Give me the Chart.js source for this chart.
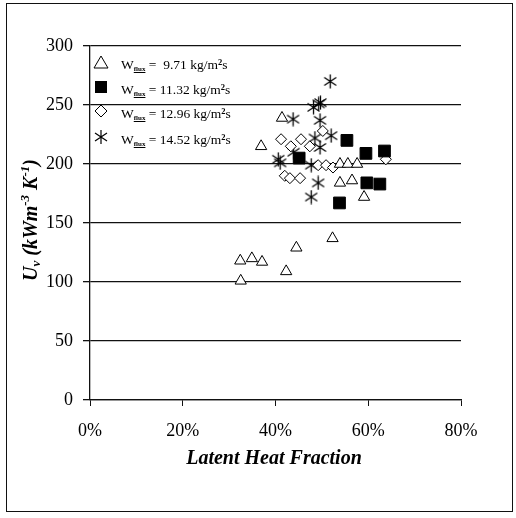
<!DOCTYPE html>
<html>
<head>
<meta charset="utf-8">
<script src="https://cdn.jsdelivr.net/npm/chart.js@4/dist/chart.umd.min.js"></script>
<style>
  html, body { margin: 0; padding: 0; background: #fff; }
  #wrap { position: relative; width: 516px; height: 518px; overflow: hidden; }
  #frame { position: absolute; left: 6px; top: 3px; width: 507px; height: 509px; border: 1.5px solid #111; box-sizing: border-box; }
  canvas { position: absolute; left: 0; top: 0; }
  .serif { font-family: "Liberation Serif", "Times New Roman", serif; color: #000; }
  #legend { position: absolute; left: 92px; top: 50px; font-size: 13.5px; }
  #legend .row { position: absolute; left: 0; height: 20px; white-space: nowrap; line-height: 20px; }
  #legend svg { position: absolute; left: 0; top: 2px; }
  #legend span { position: absolute; left: 29px; top: 0; }
  #legend sub { font-size: 7px; font-weight: bold; vertical-align: -2px; text-decoration: underline; }
  #legend sup { font-size: 8.5px; font-weight: bold; vertical-align: 4px; }
  #ytitle { position: absolute; left: 30px; top: 220px; transform: translate(-50%, -50%) rotate(-90deg); font-size: 20px; font-weight: bold; font-style: italic; white-space: nowrap; }
  #ytitle sub { font-size: 13px; vertical-align: -3px; }
  #ytitle sup { font-size: 13px; vertical-align: 8px; }
  #xtitle { position: absolute; left: 274px; top: 457px; transform: translate(-50%, -50%); font-size: 20px; font-weight: bold; font-style: italic; white-space: nowrap; }
</style>
</head>
<body>
<div id="wrap">
  <canvas id="plot" width="516" height="518"></canvas>
  <div id="frame"></div>
  <div id="legend" class="serif">
    <div class="row" style="top:2px">
      <svg width="18" height="16"><polygon points="9,2 16,14 2,14" fill="#fff" stroke="#000" stroke-width="1"/></svg>
      <span>W<sub>flux</sub> = &nbsp;9.71 kg/m<sup>2</sup>s</span>
    </div>
    <div class="row" style="top:27px">
      <svg width="18" height="16"><rect x="3" y="2" width="12" height="12" fill="#000"/></svg>
      <span>W<sub>flux</sub> = 11.32 kg/m<sup>2</sup>s</span>
    </div>
    <div class="row" style="top:51px">
      <svg width="18" height="16"><polygon points="9,2 15,8 9,14 3,8" fill="#fff" stroke="#000" stroke-width="1"/></svg>
      <span>W<sub>flux</sub> = 12.96 kg/m<sup>2</sup>s</span>
    </div>
    <div class="row" style="top:77px">
      <svg width="18" height="16"><path d="M9,1 L9,15 M3,4 L15,12 M15,4 L3,12" stroke="#000" stroke-width="1.2" fill="none"/></svg>
      <span>W<sub>flux</sub> = 14.52 kg/m<sup>2</sup>s</span>
    </div>
  </div>
  <div id="ytitle" class="serif">U<sub>v</sub> (kWm<sup>-3</sup> K<sup>-1</sup>)</div>
  <div id="xtitle" class="serif">Latent Heat Fraction</div>
</div>
<script>
// latent heat fraction (%) and U_v (kW m^-3 K^-1) per mass flux
const flux971X = [32.5, 32.4, 34.9, 37.1, 42.3, 44.5, 52.3, 36.9, 41.4, 53.9, 55.6, 57.6, 53.9, 56.5, 59.1];
const flux971Y = [101, 118, 120, 117, 109, 129, 137, 215, 239, 200, 200, 200, 184, 186, 172];

const flux1132X = [45.1, 55.4, 59.5, 63.5, 59.7, 62.5, 53.8];
const flux1132Y = [205, 220, 209, 211, 184, 183, 167];

const flux1296X = [41.2, 43.3, 45.5, 47.4, 50.2, 42.0, 43.1, 45.3, 49.2, 50.9, 52.4, 63.8];
const flux1296Y = [221, 215, 221, 215, 228, 190, 188, 188, 199, 199, 197, 204];

const flux1452X = [40.6, 41.0, 43.8, 43.9, 48.2, 49.3, 49.7, 49.6, 48.5, 49.6, 52.0, 51.8, 47.7, 49.2, 47.7];
const flux1452Y = [204, 201, 238, 210, 248, 251, 252, 237, 222, 214, 224, 270, 199, 184, 172];

const xTicks = [0, 20, 40, 60, 80];
const yTicks = [0, 50, 100, 150, 200, 250, 300];

const pts = (xs, ys) => xs.map((x, i) => ({ x, y: ys[i] }));

// six-armed asterisk like the original marker
function asterisk() {
  const c = document.createElement("canvas");
  c.width = 15; c.height = 15;
  const g = c.getContext("2d");
  g.strokeStyle = "#000";
  g.lineWidth = 1.3;
  g.beginPath();
  g.moveTo(7.5, 0.5); g.lineTo(7.5, 14.5);
  g.moveTo(1.5, 3.5); g.lineTo(13.5, 11.5);
  g.moveTo(13.5, 3.5); g.lineTo(1.5, 11.5);
  g.stroke();
  return c;
}

const tickFont = { family: "'Liberation Serif', 'Times New Roman', serif", size: 18 };

new Chart(document.getElementById("plot"), {
  type: "scatter",
  data: {
    datasets: [
      { label: "W flux = 9.71 kg/m2s", data: pts(flux971X, flux971Y), pointStyle: "triangle",
        radius: 6.5, backgroundColor: "#fff", borderColor: "#000", borderWidth: 1 },
      { label: "W flux = 11.32 kg/m2s", data: pts(flux1132X, flux1132Y), pointStyle: "rect",
        radius: 8.3, backgroundColor: "#000", borderColor: "#000", borderWidth: 1 },
      { label: "W flux = 12.96 kg/m2s", data: pts(flux1296X, flux1296Y), pointStyle: "rectRot",
        radius: 5.5, backgroundColor: "#fff", borderColor: "#000", borderWidth: 1 },
      { label: "W flux = 14.52 kg/m2s", data: pts(flux1452X, flux1452Y), pointStyle: asterisk(),
        radius: 7, backgroundColor: "#000", borderColor: "#000", borderWidth: 1 }
    ]
  },
  options: {
    responsive: false,
    animation: false,
    layout: { padding: { top: 46, right: 55, left: 0, bottom: 0 } },
    plugins: { legend: { display: false }, tooltip: { enabled: false } },
    scales: {
      x: {
        type: "linear",
        min: 0,
        max: 80,
        afterBuildTicks: s => { s.ticks = xTicks.map(v => ({ value: v })); },
        afterFit: s => { s.height = 118; },
        border: { color: "#111", width: 1.3 },
        grid: { drawOnChartArea: false, drawTicks: true, tickLength: 6, color: "#111", lineWidth: 1 },
        ticks: { color: "#000", font: tickFont, padding: 14, maxRotation: 0, callback: v => v + "%" }
      },
      y: {
        type: "linear",
        min: 0,
        max: 300,
        afterBuildTicks: s => { s.ticks = yTicks.map(v => ({ value: v })); },
        afterFit: s => { s.width = 90; },
        border: { color: "#111", width: 1.3 },
        grid: { drawTicks: true, tickLength: 7, color: "#111", lineWidth: 1.3 },
        ticks: { color: "#000", font: tickFont, padding: 10 }
      }
    }
  }
});
</script>
</body>
</html>
